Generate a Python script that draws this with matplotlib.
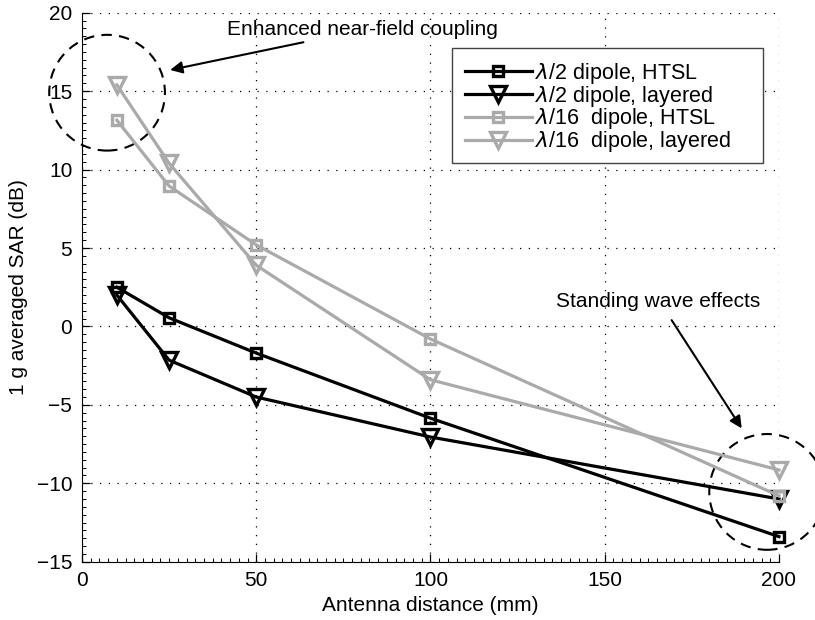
import matplotlib.pyplot as plt
from matplotlib.patches import Ellipse, Rectangle
from matplotlib.ticker import MultipleLocator

plt.rcParams['font.family'] = ['Liberation Sans', 'DejaVu Sans']
plt.rcParams['mathtext.fontset'] = 'dejavusans'

# antenna distance (mm)
distance = [10, 25, 50, 100, 200]

# 1 g averaged SAR (dB)
half_htsl = [2.5, 0.55, -1.7, -5.85, -13.4]
half_layered = [2.0, -2.15, -4.5, -7.05, -11.0]
sixteenth_htsl = [13.15, 8.95, 5.2, -0.8, -10.8]
sixteenth_layered = [15.4, 10.4, 3.9, -3.4, -9.15]

labels = [r'$\lambda$/2 dipole, HTSL',
          r'$\lambda$/2 dipole, layered',
          r'$\lambda$/16  dipole, HTSL',
          r'$\lambda$/16  dipole, layered']

gray = '#aaaaaa'

fig = plt.figure(figsize=(8.15, 6.2), dpi=100)
ax = fig.add_axes([0.1006, 0.094, 0.8552, 0.8855])

lw = 2.3
style = dict(lw=lw, mfc='none', mew=2.4, clip_on=False, zorder=3)
ax.plot(distance, half_htsl, color='black', marker='s', ms=7.5, label=labels[0], **style)
ax.plot(distance, half_layered, color='black', marker='v', ms=11, label=labels[1], **style)
ax.plot(distance, sixteenth_htsl, color=gray, marker='s', ms=7.5, label=labels[2], **style)
ax.plot(distance, sixteenth_layered, color=gray, marker='v', ms=11, label=labels[3], **style)

ax.set_xlim(0, 200)
ax.set_ylim(-15, 20)
ax.xaxis.set_major_locator(MultipleLocator(50))
ax.yaxis.set_major_locator(MultipleLocator(5))
ax.xaxis.set_minor_locator(MultipleLocator(2.5))
ax.yaxis.set_minor_locator(MultipleLocator(0.5))
ax.tick_params(which='both', direction='in', labelsize=15)
ax.tick_params(which='major', length=6, width=0.9, pad=7)
ax.tick_params(which='minor', length=3, width=0.7)
ax.spines['top'].set_visible(False)
ax.spines['right'].set_visible(False)
ax.grid(True, which='major', color='black', lw=0.9, linestyle=(0, (1, 6)))

ax.set_xlabel('Antenna distance (mm)', fontsize=15, labelpad=4)
ax.set_ylabel('1 g averaged SAR (dB)', fontsize=15, labelpad=6)

# legend box is wider than its contents in the original, so draw the frame by hand
ax.add_patch(Rectangle((0.531, 0.726), 0.446, 0.21, transform=ax.transAxes,
                       facecolor='white', edgecolor='#444444', lw=1.0, zorder=4))
leg = ax.legend(loc='upper left', bbox_to_anchor=(0.531, 0.936),
                borderaxespad=0, fontsize=15.5, numpoints=1, handlelength=3.1,
                handletextpad=0.15, labelspacing=-0.1, frameon=False, borderpad=0.6)
leg.set_zorder(5)

# dashed circles around the interesting regions
for cx, cy in [(7.2, 14.9), (196.6, -10.55)]:
    ax.add_patch(Ellipse((cx, cy), 33.2, 7.38, fill=False, color='black',
                         lw=1.5, linestyle=(0, (5, 3.5)), clip_on=False))

ax.annotate('Enhanced near-field coupling', xy=(25.3, 16.35), xytext=(41.6, 18.9),
            fontsize=15, ha='left', va='center',
            arrowprops=dict(arrowstyle='-|>', color='black', lw=1.5,
                            mutation_scale=18, shrinkA=0, shrinkB=0))
ax.annotate('', xy=(189.3, -6.5), xytext=(169.2, 0.4),
            arrowprops=dict(arrowstyle='-|>', color='black', lw=1.5,
                            mutation_scale=18, shrinkA=0, shrinkB=0))
ax.text(194.5, 1.6, 'Standing wave effects', fontsize=15, ha='right', va='center')

fig.savefig('out.png', dpi=100)
